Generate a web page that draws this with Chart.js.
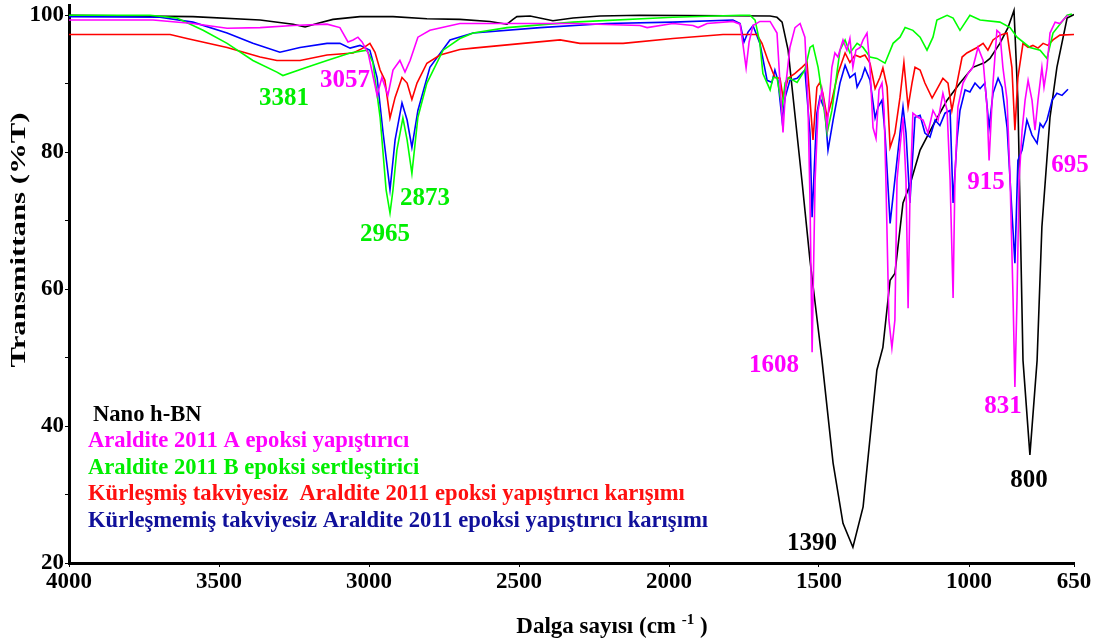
<!DOCTYPE html>
<html>
<head>
<meta charset="utf-8">
<script src="https://cdn.jsdelivr.net/npm/chart.js@4"></script>
<style>
  body { margin: 0; background: #fff; }
  #wrap { width: 1093px; height: 644px; }
</style>
</head>
<body>
<div id="wrap"><canvas id="ftirChart"></canvas></div>
<script>
// wavenumber (cm-1) and transmittance (%T)
const nanoBN_wn = [4000, 3587, 3363, 3253, 3213, 3173, 3120, 3030, 2920, 2807, 2697, 2597, 2540, 2520, 2507, 2463, 2387, 2320, 2230, 2097, 1663, 1640, 1623, 1603, 1557, 1530, 1490, 1453, 1420, 1387, 1353, 1307, 1287, 1263, 1247, 1220, 1197, 1163, 1120, 1073, 1030, 987, 947, 930, 897, 870, 850, 837, 820, 797, 773, 757, 730, 707, 673, 650];
const nanoBN_T = [100, 99.8, 99.3, 98.7, 98.3, 98.8, 99.4, 99.8, 99.8, 99.5, 99.4, 99.1, 98.7, 99.4, 99.8, 99.9, 99.2, 99.6, 99.9, 100, 99.9, 99.7, 99.0, 94.9, 75.9, 64.2, 49.6, 34.6, 25.8, 22.3, 28.2, 48.2, 51.5, 61.3, 62.3, 72.6, 75.2, 80.3, 83.9, 87.6, 90.1, 92.4, 93.1, 93.7, 95.9, 98.2, 100.7, 87.6, 49.6, 35.8, 49.6, 69.1, 85.1, 92.4, 99.6, 100.1];

const partA_wn = [4000, 3720, 3587, 3473, 3363, 3253, 3140, 3097, 3070, 3053, 3037, 3023, 3003, 2987, 2973, 2957, 2937, 2920, 2897, 2880, 2863, 2837, 2797, 2697, 2540, 2320, 2097, 2073, 1987, 1920, 1903, 1873, 1787, 1763, 1753, 1743, 1733, 1720, 1697, 1663, 1640, 1630, 1620, 1610, 1597, 1580, 1563, 1547, 1537, 1530, 1523, 1513, 1503, 1490, 1480, 1473, 1457, 1447, 1437, 1420, 1407, 1397, 1387, 1377, 1363, 1353, 1340, 1330, 1320, 1310, 1300, 1290, 1283, 1277, 1267, 1257, 1247, 1240, 1230, 1220, 1210, 1203, 1197, 1187, 1170, 1153, 1137, 1120, 1103, 1087, 1073, 1063, 1053, 1047, 1037, 1020, 1003, 987, 970, 953, 940, 933, 920, 907, 897, 887, 873, 863, 853, 847, 840, 833, 823, 813, 803, 790, 780, 770, 757, 750, 740, 730, 713, 697, 680, 670];
const partA_T = [99.3, 99.3, 98.8, 98.1, 98.2, 98.5, 98.7, 98.2, 96.1, 96.4, 96.8, 96.1, 94.5, 91.2, 88.3, 90.9, 88.3, 92.0, 93.4, 91.7, 93.4, 96.8, 97.8, 98.8, 98.8, 98.8, 98.5, 98.2, 98.8, 98.5, 98.2, 98.8, 99.1, 98.7, 95.6, 92.3, 96.1, 98.5, 99.1, 99.1, 97.4, 90.1, 82.9, 90.1, 95.3, 98.2, 98.8, 96.8, 87.6, 73.0, 50.8, 75.9, 86.1, 89.1, 86.1, 83.6, 92.4, 94.5, 93.9, 96.4, 94.9, 96.6, 92.4, 94.9, 95.3, 96.4, 97.4, 92.4, 83.6, 82.0, 89.1, 90.1, 86.1, 75.9, 55.5, 51.4, 55.5, 75.9, 80.7, 85.1, 75.9, 57.2, 73.0, 85.7, 85.1, 84.7, 82.8, 86.1, 84.7, 88.6, 86.1, 75.9, 58.7, 75.9, 86.6, 90.1, 91.5, 92.4, 95.3, 93.4, 86.6, 78.8, 90.1, 97.8, 97.4, 92.4, 87.6, 75.9, 58.4, 45.7, 58.4, 75.9, 83.2, 87.6, 90.5, 87.6, 83.2, 87.6, 92.4, 89.5, 92.4, 97.4, 99.0, 98.8, 99.6, 100];

const partB_wn = [4000, 3730, 3640, 3553, 3473, 3387, 3307, 3287, 3207, 3140, 3063, 3007, 2987, 2963, 2943, 2930, 2920, 2907, 2887, 2873, 2857, 2837, 2807, 2753, 2697, 2653, 2540, 2320, 1987, 1763, 1730, 1713, 1697, 1687, 1663, 1653, 1640, 1623, 1613, 1603, 1573, 1547, 1530, 1520, 1503, 1487, 1473, 1457, 1430, 1413, 1397, 1373, 1353, 1330, 1307, 1280, 1253, 1230, 1213, 1187, 1163, 1140, 1120, 1107, 1073, 1053, 1030, 997, 963, 897, 863, 840, 797, 763, 740, 720, 673, 657];
const partB_T = [100, 100, 99.6, 97.8, 95.9, 93.4, 91.7, 91.2, 92.4, 93.4, 94.5, 94.9, 93.1, 85.1, 74.5, 71.1, 74.5, 80.3, 85.0, 81.8, 76.9, 85.1, 90.1, 94.9, 96.6, 97.4, 98.2, 99.0, 99.7, 100, 100, 99.3, 95.9, 91.5, 89.1, 90.9, 90.9, 86.6, 90.1, 90.9, 90.2, 92.0, 95.3, 95.6, 92.4, 87.6, 82.8, 86.1, 94.9, 96.4, 94.5, 95.9, 95.3, 93.9, 93.7, 93.0, 95.9, 96.8, 98.2, 97.8, 96.8, 94.9, 96.8, 99.3, 100, 99.6, 97.8, 100, 99.3, 99.0, 98.2, 96.8, 95.3, 94.9, 93.7, 97.4, 100, 100.2];

const cured_wn = [4000, 3663, 3607, 3473, 3363, 3307, 3230, 3140, 3053, 3020, 2997, 2980, 2963, 2947, 2930, 2913, 2890, 2873, 2857, 2840, 2807, 2763, 2697, 2653, 2487, 2363, 2297, 2153, 1987, 1820, 1707, 1690, 1670, 1647, 1630, 1620, 1603, 1580, 1557, 1540, 1530, 1520, 1507, 1497, 1487, 1473, 1457, 1437, 1413, 1397, 1380, 1363, 1347, 1330, 1313, 1297, 1287, 1273, 1263, 1247, 1230, 1217, 1203, 1190, 1180, 1163, 1147, 1123, 1103, 1087, 1070, 1057, 1040, 1023, 1007, 973, 953, 937, 920, 897, 873, 857, 847, 837, 820, 803, 787, 770, 753, 737, 720, 697, 650];
const cured_T = [97.2, 97.2, 96.6, 95.3, 93.9, 93.4, 93.4, 94.2, 94.5, 95.2, 95.9, 94.6, 92.0, 90.5, 85.0, 88.0, 90.9, 90.1, 87.7, 90.1, 93.0, 94.2, 95.0, 95.2, 95.9, 96.4, 95.9, 95.9, 96.6, 97.2, 97.2, 95.9, 93.4, 90.9, 90.8, 88.0, 90.8, 91.5, 92.4, 93.1, 87.6, 81.8, 89.5, 90.2, 88.6, 85.1, 87.6, 91.5, 94.5, 93.1, 94.2, 93.9, 94.2, 93.0, 89.3, 90.9, 92.3, 89.5, 80.7, 82.8, 88.0, 93.1, 86.6, 90.1, 92.4, 92.0, 90.1, 87.9, 89.5, 90.8, 90.1, 86.1, 90.1, 93.9, 94.5, 95.3, 95.9, 94.9, 96.4, 97.1, 97.4, 92.4, 83.2, 90.9, 95.9, 95.3, 95.6, 95.2, 95.9, 95.6, 96.4, 97.1, 97.2];

const uncured_wn = [4000, 3697, 3587, 3473, 3387, 3297, 3230, 3140, 3097, 3063, 3030, 2997, 2973, 2953, 2930, 2913, 2890, 2873, 2857, 2837, 2797, 2730, 2653, 2430, 2207, 1987, 1787, 1763, 1750, 1737, 1720, 1697, 1673, 1657, 1647, 1637, 1623, 1613, 1597, 1573, 1547, 1530, 1523, 1513, 1507, 1497, 1480, 1470, 1453, 1430, 1413, 1397, 1380, 1373, 1357, 1347, 1330, 1313, 1303, 1290, 1280, 1263, 1240, 1230, 1220, 1210, 1197, 1180, 1163, 1147, 1130, 1113, 1097, 1080, 1063, 1053, 1040, 1030, 1013, 997, 980, 963, 947, 933, 920, 903, 890, 873, 863, 847, 837, 823, 807, 790, 773, 763, 753, 740, 723, 707, 690, 670];
const uncured_T = [99.8, 99.7, 99.0, 97.4, 95.9, 94.6, 95.3, 95.9, 95.9, 95.2, 95.6, 94.9, 90.9, 82.8, 74.5, 81.8, 87.2, 84.7, 80.7, 86.1, 92.4, 96.4, 97.4, 98.2, 98.8, 99.0, 99.3, 98.8, 96.1, 97.5, 98.5, 95.9, 90.5, 90.2, 92.0, 90.5, 84.7, 88.0, 90.5, 90.8, 92.0, 82.8, 70.5, 80.3, 85.7, 88.0, 86.1, 80.3, 84.7, 90.1, 92.7, 90.9, 91.5, 89.5, 90.9, 92.3, 90.5, 85.0, 86.6, 87.6, 82.8, 69.6, 78.8, 82.8, 86.6, 82.8, 72.6, 85.1, 85.4, 82.8, 82.2, 84.7, 83.9, 85.7, 86.1, 72.6, 81.8, 86.1, 89.1, 88.8, 90.1, 89.3, 90.1, 83.6, 88.6, 90.8, 89.5, 83.6, 75.9, 63.8, 78.8, 80.3, 84.7, 82.5, 81.3, 84.2, 83.6, 84.7, 87.6, 88.6, 88.3, 89.2];

const seriesNames = [
  'Nano h-BN',
  'Araldite 2011 A epoksi yapıştırıcı',
  'Araldite 2011 B epoksi sertleştirici',
  'Kürleşmiş takviyesiz  Araldite 2011 epoksi yapıştırıcı karışımı',
  'Kürleşmemiş takviyesiz Araldite 2011 epoksi yapıştırıcı karışımı'
];
const lineColors = ['#000000', '#ff00ff', '#00ff00', '#ff0000', '#0000ff'];
const legendColors = ['#000000', '#ff00ff', '#00ee00', '#ff1010', '#10109a'];

const xTickValues = [4000, 3500, 3000, 2500, 2000, 1500, 1000, 650];
const yTickValues = [20, 30, 40, 50, 60, 70, 80, 90, 100];

// peak labels, anchored in data units (wavenumber, %T)
const peakText = ['3381', '3057', '2965', '2873', '1608', '1390', '915', '831', '800', '695'];
const peakWn = [3283, 3080, 2947, 2813, 1650, 1523, 943, 887, 800, 663];
const peakT = [87.9, 90.5, 68.0, 73.3, 48.8, 22.9, 75.5, 42.8, 32.1, 78.1];
const peakColor = ['#00ee00', '#ff00ff', '#00ee00', '#00ee00', '#ff00ff', '#000000', '#ff00ff', '#ff00ff', '#000000', '#ff00ff'];

function toPoints(wn, t) {
  return wn.map((w, i) => ({ x: w, y: t[i] }));
}

const serif = '"Liberation Serif", "Times New Roman", serif';

const textPlugin = {
  id: 'ftirTexts',
  afterDraw(chart) {
    const ctx = chart.ctx;
    const xs = chart.scales.x;
    const ys = chart.scales.y;
    ctx.save();
    ctx.textBaseline = 'middle';

    // legend block inside the plot
    ctx.font = 'bold 22.6px ' + serif;
    ctx.textAlign = 'left';
    seriesNames.forEach((name, i) => {
      ctx.fillStyle = legendColors[i];
      ctx.fillText(name, i === 0 ? 93 : 88, 415 + i * 26.5);
    });

    // peak labels
    ctx.font = 'bold 25px ' + serif;
    ctx.textAlign = 'center';
    peakText.forEach((t, i) => {
      ctx.fillStyle = peakColor[i];
      ctx.fillText(t, xs.getPixelForValue(peakWn[i]), ys.getPixelForValue(peakT[i]));
    });

    // x title with superscript
    ctx.fillStyle = '#000';
    ctx.textAlign = 'left';
    ctx.textBaseline = 'alphabetic';
    const p1 = 'Dalga sayısı (cm ';
    const p2 = '-1';
    const p3 = ' )';
    ctx.font = 'bold 23px ' + serif;
    const w1 = ctx.measureText(p1).width;
    const w3 = ctx.measureText(p3).width;
    ctx.font = 'bold 15px ' + serif;
    const w2 = ctx.measureText(p2).width;
    const x0 = 612 - (w1 + w2 + w3) / 2;
    ctx.font = 'bold 23px ' + serif;
    ctx.fillText(p1, x0, 633);
    ctx.font = 'bold 15px ' + serif;
    ctx.fillText(p2, x0 + w1, 624);
    ctx.font = 'bold 23px ' + serif;
    ctx.fillText(p3, x0 + w1 + w2, 633);

    // y title, elongated along its length like the source
    ctx.translate(19, 240);
    ctx.rotate(-Math.PI / 2);
    ctx.scale(1.4, 1);
    ctx.font = 'bold 22px ' + serif;
    ctx.textAlign = 'center';
    ctx.textBaseline = 'middle';
    ctx.fillText('Transmittans (%T)', 0, 0);
    ctx.restore();
  }
};

const datasets = [
  { label: seriesNames[1], data: toPoints(partA_wn, partA_T), borderColor: lineColors[1] },
  { label: seriesNames[2], data: toPoints(partB_wn, partB_T), borderColor: lineColors[2] },
  { label: seriesNames[3], data: toPoints(cured_wn, cured_T), borderColor: lineColors[3] },
  { label: seriesNames[4], data: toPoints(uncured_wn, uncured_T), borderColor: lineColors[4] },
  { label: seriesNames[0], data: toPoints(nanoBN_wn, nanoBN_T), borderColor: lineColors[0] }
].map(d => Object.assign(d, { borderWidth: 1.6, pointRadius: 0, tension: 0, fill: false }));

const ctx = document.getElementById('ftirChart').getContext('2d');
const ftirChart = new Chart(ctx, {
  type: 'line',
  data: { datasets },
  options: {
    responsive: true,
    maintainAspectRatio: false,
    animation: false,
    layout: { padding: { top: 5, right: 19, left: 0, bottom: 0 } },
    plugins: {
      legend: { display: false },
      tooltip: { enabled: false }
    },
    scales: {
      x: {
        type: 'linear',
        reverse: true,
        min: 650,
        max: 4000,
        afterBuildTicks: scale => { scale.ticks = xTickValues.map(v => ({ value: v })); },
        afterFit: scale => { scale.height = 81; scale.paddingLeft = 0; scale.paddingRight = 0; },
        ticks: {
          autoSkip: false,
          maxRotation: 0,
          padding: 1,
          color: '#000',
          font: { family: serif, size: 23, weight: 'bold' },
          callback: v => String(v)
        },
        grid: { drawOnChartArea: false, drawTicks: true, tickLength: 4, color: '#000' },
        border: { display: true, color: '#000', width: 3 }
      },
      y: {
        min: 20,
        max: 101.5,
        afterBuildTicks: scale => { scale.ticks = yTickValues.map(v => ({ value: v })); },
        afterFit: scale => { scale.width = 69; scale.paddingTop = 0; scale.paddingBottom = 0; },
        ticks: {
          autoSkip: false,
          padding: 1,
          color: '#000',
          font: { family: serif, size: 23, weight: 'bold' },
          callback: v => (v % 20 === 0 ? String(v) : '')
        },
        grid: { drawOnChartArea: false, drawTicks: true, tickLength: 4, color: '#000' },
        border: { display: true, color: '#000', width: 3 }
      }
    }
  },
  plugins: [textPlugin]
});
</script>
</body>
</html>
